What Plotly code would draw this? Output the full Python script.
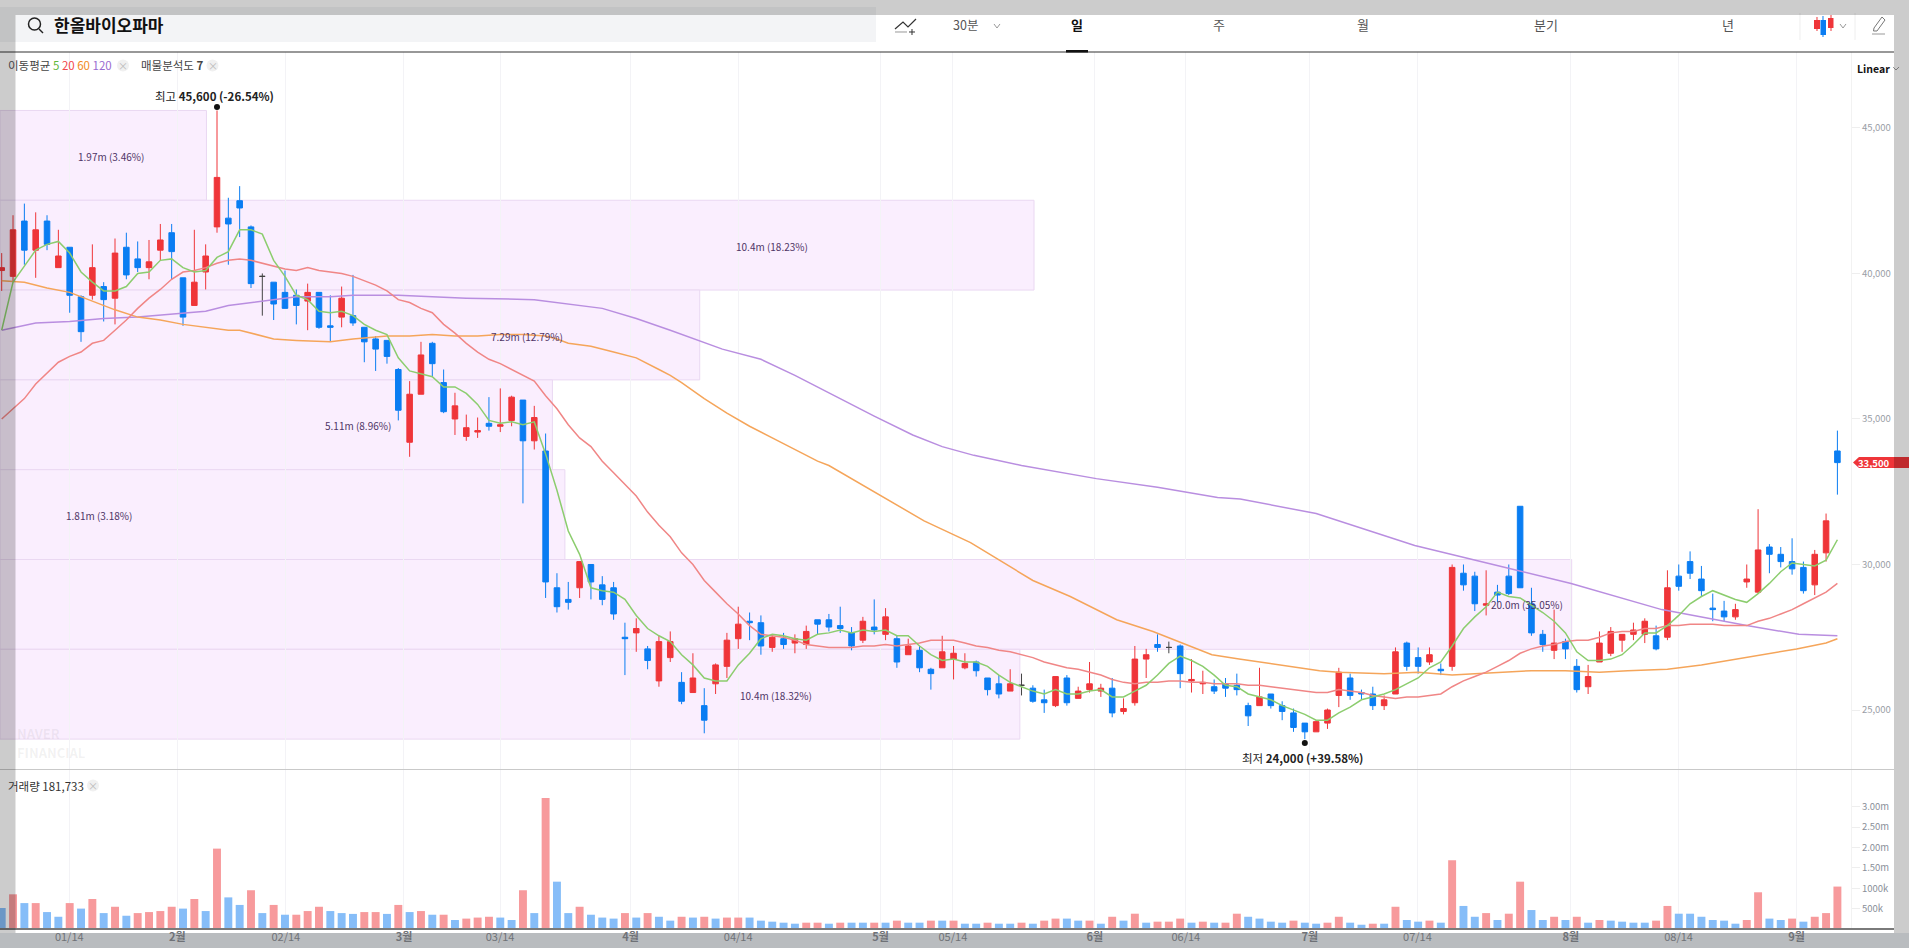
import plotly.graph_objects as go

# daily candles, index 0..162 (won)
opens = [
    40100, 39900, 41800, 40800, 41800, 40200, 40900, 39200, 39250, 39550,
    39150, 40900, 40500, 40200, 40800, 41400, 39850, 38900, 40050, 41600,
    41900, 42500, 41600, 39900, 39700, 39350, 39250, 39050, 39350, 38200,
    38500, 38550, 38150, 37750, 37700, 36700, 34200, 35850, 37600, 36250,
    35000, 34400, 34550, 34850, 34750, 34950, 35650, 34250, 33900, 29200,
    28800, 29200, 30000, 29300, 29200, 27500, 27650, 27100, 26000, 26800,
    25950, 25600, 25150, 25900, 26500, 27450, 28050, 28000, 27150, 27450,
    27300, 27250, 28100, 28100, 27900, 27650, 27400, 27850, 27600, 27450,
    26900, 27050, 26400, 26450, 26750, 26450, 26650, 26100, 25900, 25650,
    25850, 25750, 25350, 25150, 26100, 25400, 25700, 25650, 25750, 24950,
    25250, 26750, 27250, 27150, 27200, 26000, 25900, 25800, 25900, 25850,
    25150, 25150, 25550, 25150, 24900, 24550, 24250, 24550, 25500, 26100,
    25600, 25550, 25150, 25550, 27300, 26800, 26650, 26400, 26500, 29700,
    29600, 28600, 29050, 29600, 32000, 28650, 27600, 27050, 27350, 26500,
    25800, 26650, 26950, 27400, 27600, 27600, 27550, 27500, 29600, 30100,
    29500, 28500, 28400, 28200, 29400, 29050, 30600, 30350, 30100, 29900,
    29300, 30400, 33900,
]
closes = [
    40200, 41500, 40800, 41500, 41000, 40600, 39250, 38000, 40200, 39100,
    40700, 39950, 40200, 40400, 41150, 40750, 38500, 39700, 40600, 43300,
    41700, 42250, 39650, 39900, 38950, 38800, 38900, 39350, 38150, 38150,
    39150, 38300, 37650, 37400, 37150, 35300, 35850, 37200, 36900, 35250,
    35450, 34700, 34600, 34750, 34800, 35750, 34250, 35050, 29400, 28550,
    28700, 30100, 29400, 28800, 28300, 27450, 27800, 26700, 27350, 27350,
    25300, 26100, 24650, 26550, 27400, 27950, 28000, 27200, 27500, 27250,
    27450, 27700, 27950, 27850, 27800, 27200, 28050, 27750, 28200, 26650,
    27200, 26450, 26250, 27000, 26950, 26600, 26350, 25700, 25550, 25900,
    25850, 25300, 25250, 26150, 25250, 25650, 25900, 25750, 24900, 25050,
    26750, 26900, 27150, 27150, 26250, 26050, 25950, 25650, 25750, 25700,
    24800, 25450, 25150, 24950, 24400, 24250, 24600, 25000, 26300, 25500,
    25550, 25150, 25350, 27000, 26500, 26500, 26900, 26350, 29900, 29300,
    28650, 28650, 28950, 29000, 29200, 27650, 27250, 27300, 27100, 25700,
    26150, 27300, 27700, 27600, 27750, 28050, 27100, 29200, 29250, 29700,
    29100, 28450, 28200, 28450, 29500, 30500, 30350, 30100, 29850, 29100,
    30350, 31500, 33500,
]
highs = [
    40700, 42000, 42400, 42100, 42000, 41500, 40900, 39250, 41000, 39700,
    41200, 41400, 41100, 41150, 41700, 41700, 39850, 41500, 41000, 45600,
    42600, 43000, 41650, 40000, 39700, 40100, 39450, 39650, 39350, 39250,
    39550, 39950, 38150, 37850, 37700, 36750, 36300, 37650, 37650, 36700,
    35900, 35150, 35050, 35750, 36050, 35800, 35650, 35450, 34500, 29700,
    29400, 30100, 30000, 29600, 29400, 28000, 28150, 27200, 27550, 27700,
    26300, 26950, 25750, 26600, 27650, 28550, 28350, 28250, 27600, 27650,
    27600, 27900, 28100, 28300, 28550, 27850, 28200, 28800, 28500, 27550,
    27450, 27200, 26450, 27550, 27200, 26950, 26700, 26100, 26200, 26400,
    26250, 25850, 25700, 26150, 26200, 25800, 26650, 25900, 26100, 25400,
    27200, 27100, 27600, 27350, 27250, 26750, 26350, 26050, 26100, 26250,
    25250, 26450, 25550, 25300, 25050, 24550, 24650, 25050, 26450, 26250,
    25700, 25800, 25500, 27150, 27350, 27150, 27150, 26600, 30000, 30000,
    29750, 29800, 29300, 30000, 32000, 29200, 27750, 28450, 27450, 26750,
    26550, 27700, 27850, 27600, 28000, 28150, 27900, 29800, 30000, 30450,
    29950, 29000, 28750, 28650, 30000, 31900, 30700, 30600, 30900, 30100,
    30500, 31750, 34600,
]
lows = [
    39400, 39700, 40300, 39850, 40800, 40200, 38650, 37650, 39100, 38350,
    38250, 39800, 40050, 39800, 40450, 39800, 38200, 38900, 39450, 41400,
    40300, 41250, 39500, 38550, 38400, 38800, 38250, 38050, 38100, 37650,
    38150, 38200, 36950, 36650, 36900, 34950, 33700, 35850, 36450, 35200,
    34450, 34250, 34350, 34600, 34550, 34750, 32100, 33950, 28850, 28350,
    28450, 28850, 28800, 28600, 28100, 26200, 27000, 26400, 25800, 26650,
    25200, 25600, 24200, 25550, 26100, 27100, 27400, 26900, 27000, 27100,
    26950, 27100, 27600, 27700, 27650, 27050, 27300, 27600, 27400, 26450,
    26900, 26300, 25700, 26450, 26050, 26400, 26150, 25500, 25400, 25650,
    25500, 25250, 24900, 25100, 25150, 25400, 25600, 25450, 24750, 24850,
    25150, 26100, 27000, 26950, 25750, 25600, 25550, 25550, 25450, 25500,
    24450, 25150, 25050, 24650, 24250, 24000, 24250, 24350, 25100, 25350,
    25350, 25000, 25000, 25550, 26350, 26250, 26550, 26200, 26350, 29100,
    28400, 28250, 28700, 28950, 29200, 27550, 27000, 26750, 26750, 25600,
    25550, 26650, 26850, 27000, 27400, 27300, 27050, 27400, 29100, 29500,
    28900, 28050, 28050, 28100, 29200, 29000, 29700, 29900, 29650, 29000,
    28950, 30100, 32400,
]

# thousands of shares
volumes = [
    515, 850, 635, 635, 415, 300, 635, 500, 735, 390,
    545, 325, 390, 415, 440, 545, 500, 735, 440, 1970,
    775, 590, 950, 390, 590, 350, 350, 440, 545, 440,
    390, 370, 415, 415, 370, 590, 415, 440, 350, 350,
    220, 255, 280, 300, 280, 220, 950, 390, 3210, 1160,
    390, 545, 350, 280, 255, 390, 280, 390, 300, 205,
    300, 280, 300, 255, 280, 280, 280, 205, 180, 155,
    130, 155, 155, 130, 155, 155, 155, 155, 155, 205,
    155, 155, 205, 205, 205, 130, 130, 155, 130, 130,
    155, 130, 205, 255, 255, 205, 205, 130, 300, 205,
    375, 155, 180, 180, 255, 155, 180, 155, 155, 375,
    300, 255, 180, 155, 205, 155, 130, 155, 300, 155,
    105, 130, 130, 545, 220, 180, 205, 155, 1685, 565,
    300, 390, 220, 375, 1160, 465, 220, 300, 220, 300,
    155, 220, 205, 180, 155, 155, 205, 565, 375, 375,
    300, 220, 205, 130, 220, 900, 255, 220, 255, 180,
    300, 390, 1040,
]
# r = red bar, b = blue bar, as drawn in the volume pane
volume_dir = (
    "brbrbbrbrb"
    "rbrrrrbrbr"
    "bbrbrbrrrb"
    "bbrrbrbrbr"
    "brrrbbrbrb"
    "brbbbrbrbb"
    "rbrbrrbbbb"
    "brrbrbbrbr"
    "bbrbrbbrbb"
    "rbrrbbrbrb"
    "rbrrrbrbrr"
    "bbbbrbbrrb"
    "brbrbbrbrb"
    "brbrrbbrbr"
    "brbbbbrrbb"
    "bbbbrrbbrb"
    "rrr"
)

tick_pos = [5.96, 15.49, 25.07, 35.5, 43.98, 55.49, 64.99, 77.55, 83.94, 96.46,
            104.5, 115.45, 124.94, 138.48, 147.98, 158.39]
tick_labels = ["01/14", "2월", "02/14", "3월", "03/14", "4월", "04/14", "5월", "05/14", "6월",
               "06/14", "7월", "07/14", "8월", "08/14", "9월"]

# moving averages
ma5 = [
    38050, 39700, 40250, 40800, 41000, 41100, 40700, 40050, 39700, 39400,
    39400, 39550, 40000, 40050, 40450, 40500, 40200, 40050, 40100, 40550,
    40750, 41500, 41500, 41350, 40450, 39900, 39250, 39100, 38700, 38650,
    38700, 38550, 38250, 38050, 37900, 37100, 36650, 36550, 36450, 36100,
    36100, 35880, 35500, 34950, 34850, 34900, 34800, 34900, 33800, 32550,
    31150, 30350, 29200, 29100, 29050, 28800, 28250, 27800, 27550, 27350,
    26900, 26550, 26100, 26000, 26000, 26550, 26950, 27450, 27600, 27550,
    27450, 27400, 27600, 27650, 27750, 27650, 27750, 27700, 27750, 27550,
    27550, 27200, 26900, 26700, 26750, 26650, 26650, 26500, 26200, 25950,
    25800, 25650, 25550, 25700, 25550, 25550, 25650, 25700, 25450, 25450,
    25650, 25850, 26200, 26600, 26850, 26700, 26500, 26200, 25850, 25800,
    25550, 25450, 25350, 25150, 25000, 24850, 24650, 24650, 24900, 25100,
    25350, 25450, 25550, 25700, 25900, 26100, 26450, 26650, 27200, 27800,
    28200, 28550, 29050, 28900, 28850, 28600, 28350, 28050, 27650, 27000,
    26700, 26700, 26750, 26900, 27250, 27650, 27650, 27900, 28250, 28650,
    28900, 29100, 28950, 28800, 28700, 29000, 29350, 29750, 30050, 30000,
    29950, 30150, 30850,
]
ma20_idx = [0, 2, 3] + list(range(5, 163))
ma20 = [
    35000, 35700, 36200,
    36950, 37150, 37300, 37600, 37700, 38050, 38400, 38800, 39150, 39450,
    39800, 40050, 40100, 40200, 40350, 40450, 40500, 40450, 40350, 40250,
    40150, 40100, 40200, 40100, 40050, 40000, 39900, 39750, 39600, 39400,
    39100, 39000, 38800, 38650, 38250, 37950, 37600, 37300, 37050, 36900,
    36700, 36500, 36300, 35800, 35350, 34800, 34350, 34050, 33550, 33150,
    32750, 32350, 31800, 31350, 30950, 30400, 30000, 29450, 29050, 28650,
    28300, 27900, 27600, 27550, 27500, 27400, 27250, 27200, 27150, 27150,
    27150, 27200, 27200, 27250, 27200, 27250, 27300, 27400, 27400, 27400,
    27300, 27200, 27150, 27050, 27000, 26900, 26800, 26650, 26550, 26450,
    26400, 26300, 26200, 26050, 25950, 25900, 25950, 25950, 26000, 26000,
    25950, 25950, 25900, 25900, 25900, 25850, 25850, 25800, 25750, 25700,
    25650, 25600, 25600, 25700, 25650, 25600, 25500, 25450, 25400, 25450,
    25450, 25500, 25550, 25800, 26000, 26150, 26300, 26500, 26700, 26950,
    27100, 27200, 27250, 27350, 27400, 27400, 27500, 27650, 27700, 27700,
    27800, 27800, 27900, 27900, 27950, 27950, 27950, 27900, 27900, 27900,
    28050, 28150, 28300, 28450, 28650, 28850, 29050, 29350,
]
ma60_idx = [0, 2, 4, 6, 8, 10, 12, 14, 16, 18, 20, 21, 23, 24, 26, 28, 29, 31, 33, 34, 36, 38, 40,
            42, 44, 46, 48, 49, 50, 52, 54, 56, 58, 59, 60, 62, 64, 66, 68, 70, 72, 73, 77, 81.4, 85.5,
            91, 94.3, 98.4, 101.6, 104.2, 106.8, 109.2, 113.4, 116.3, 118, 122, 125, 128, 130, 132,
            135, 138, 141, 143.5, 147, 150, 154, 158.4, 161, 162]
ma60 = [39750, 39700, 39500, 39350, 39050, 38750, 38500, 38400, 38250, 38150, 38050, 38050, 37850, 37750,
        37700, 37650, 37650, 37750, 37800, 37850, 37850, 37900, 37850,
        37850, 37900, 37900, 37850, 37750, 37600, 37500, 37300, 37100, 36700, 36500, 36250, 35700, 35200,
        34750, 34350, 33950, 33550, 33400, 32500, 31500, 30750,
        29450, 28900, 28100, 27700, 27300, 26900, 26750, 26500, 26350, 26300, 26250, 26300, 26200, 26250,
        26300, 26350, 26350, 26300, 26350, 26400, 26550, 26800, 27100, 27300, 27450]
ma120_idx = [0, 3, 6, 9, 12, 15, 18, 20, 21, 23, 26, 29, 31, 33, 35, 38, 41, 47, 53, 56, 59, 63.6, 67, 70, 73,
             77, 80.4, 83, 85.8, 90, 96.6, 102, 107.3, 109.3, 116, 124.7, 133.7, 138.5, 146.5, 154, 158.6, 162]
ma120 = [38050, 38300, 38350, 38450, 38500, 38600, 38700, 38900, 38950, 39050, 39200, 39200, 39250, 39250,
         39250, 39200, 39150, 39100, 38800, 38450, 38050, 37400, 37050, 36500, 35900,
         35100, 34450, 34050, 33750, 33400, 32950, 32650, 32300, 32250, 31750, 30650, 29800, 29350, 28450,
         27900, 27600, 27550]

# price-volume zones: low, high, where the bar ends (candle index), label
zone_low = [42514, 39429, 36343, 33257, 30171, 27086, 24000]
zone_high = [45600, 42514, 39429, 36343, 33257, 30171, 27086]
zone_end = [18.07, 91.1, 61.6, 48.6, 49.7, 138.55, 89.85]
zone_text = ["1.97m (3.46%)", "10.4m (18.23%)", "7.29m (12.79%)", "5.11m (8.96%)",
             "1.81m (3.18%)", "20.0m (35.05%)", "10.4m (18.32%)"]
zone_text_px = [(111, 156), (772, 246), (527, 336), (358, 426), (99, 515), (1527, 604), (776, 695)]

price_ticks = [25000, 30000, 35000, 40000, 45000]
vol_ticks = [500000, 1000000, 1500000, 2000000, 2500000, 3000000]
vol_tick_labels = ["500k", "1000k", "1.50m", "2.00m", "2.50m", "3.00m"]

W, H = 1909, 948
RED = "#ef3539"
BLUE = "#0a7df2"
FONT = "Noto Sans CJK KR"


def px(x):
    return x / W


def py(y):
    return 1 - y / H


def rect(x0, y0, x1, y1, fill, layer="above"):
    return dict(type="rect", xref="paper", yref="paper", x0=px(x0), x1=px(x1), y0=py(y0), y1=py(y1),
                fillcolor=fill, line=dict(width=0), layer=layer)


def seg(points, color, width=1.5, close=False, fill=None):
    path = "M " + " L ".join("%f %f" % (px(a), py(b)) for a, b in points) + (" Z" if close else "")
    d = dict(type="path", xref="paper", yref="paper", path=path, line=dict(color=color, width=width), layer="above")
    if fill:
        d["fillcolor"] = fill
    return d


def circle(cx, cy, r, line_color, fill=None, width=1.5):
    d = dict(type="circle", xref="paper", yref="paper", x0=px(cx - r), x1=px(cx + r), y0=py(cy + r), y1=py(cy - r),
             line=dict(color=line_color, width=width), layer="above")
    if fill:
        d["fillcolor"] = fill
    return d


def label(x, y, text, size=11, color="#333333", anchor="center"):
    return dict(xref="paper", yref="paper", x=px(x), y=py(y), text=text, showarrow=False, xanchor=anchor,
                yanchor="middle", font=dict(size=size, color=color, family=FONT))


idx = list(range(len(opens)))
moving = [i for i in idx if opens[i] != closes[i]]
flat = [i for i in idx if opens[i] == closes[i]]

fig = go.Figure()
fig.add_trace(go.Candlestick(
    x=moving,
    open=[opens[i] for i in moving], high=[highs[i] for i in moving],
    low=[lows[i] for i in moving], close=[closes[i] for i in moving],
    increasing=dict(line=dict(color=RED, width=1), fillcolor=RED),
    decreasing=dict(line=dict(color=BLUE, width=1), fillcolor=BLUE),
    whiskerwidth=0, hoverinfo="skip", xaxis="x", yaxis="y",
))
fig.add_trace(go.Candlestick(
    x=flat,
    open=[opens[i] for i in flat], high=[highs[i] for i in flat],
    low=[lows[i] for i in flat], close=[closes[i] for i in flat],
    increasing=dict(line=dict(color="#444444", width=1), fillcolor="#444444"),
    decreasing=dict(line=dict(color="#444444", width=1), fillcolor="#444444"),
    whiskerwidth=0, hoverinfo="skip", xaxis="x", yaxis="y",
))
for xs, ys, color in [
    (ma120_idx, ma120, "#b98ee0"),
    (ma60_idx, ma60, "#f5a55a"),
    (ma20_idx, ma20, "#f08686"),
    (idx, ma5, "#8ccd6e"),
]:
    fig.add_trace(go.Scatter(x=xs, y=ys, mode="lines", line=dict(color=color, width=1.5), hoverinfo="skip",
                             xaxis="x", yaxis="y"))

# high / low markers
fig.add_trace(go.Scatter(x=[19, 115], y=[45720, 23870], mode="markers", marker=dict(color="#111111", size=6),
                         hoverinfo="skip", xaxis="x", yaxis="y"))

fig.add_trace(go.Bar(
    x=idx, y=[v * 1000 for v in volumes], width=0.7,
    marker=dict(color=["#f79a9c" if c == "r" else "#86bdf8" for c in volume_dir], line=dict(width=0)),
    hoverinfo="skip", xaxis="x2", yaxis="y2",
))

shapes = []
for low, high, end in zip(zone_low, zone_high, zone_end):
    shapes.append(dict(type="rect", xref="x", yref="y", x0=-0.15, x1=end, y0=low, y1=high,
                       fillcolor="#faeefe", line=dict(color="#ead8f2", width=1), layer="below"))

# header
shapes.append(rect(0, 7, 876, 42, "#f3f4f6", layer="below"))
shapes.append(seg([(0, 52), (1894, 52)], "#333333", 1.2))
shapes.append(rect(1066, 50, 1088, 52.5, "#111111"))
shapes.append(circle(34.5, 24, 6, "#222222"))
shapes.append(seg([(39, 29), (43, 33)], "#222222"))
shapes.append(seg([(895, 29), (903, 22), (908, 27), (916, 19)], "#333333", 1.2))
shapes.append(seg([(895, 32), (907, 32)], "#999999", 1))
shapes.append(seg([(912, 29), (912, 35)], "#333333", 1))
shapes.append(seg([(909, 32), (915, 32)], "#333333", 1))
for cx in [997, 1843]:
    shapes.append(seg([(cx - 3, 24), (cx, 28), (cx + 3, 24)], "#999999", 1))
shapes.append(seg([(1800, 13), (1800, 40)], "#eeeeee", 1))
shapes.append(seg([(1855, 13), (1855, 40)], "#eeeeee", 1))
shapes.append(seg([(1817, 17), (1817, 31)], RED, 1))
shapes.append(rect(1814, 20, 1820, 29, RED))
shapes.append(seg([(1823, 16), (1823, 37)], BLUE, 1))
shapes.append(rect(1820.5, 20, 1826, 35, BLUE))
shapes.append(seg([(1831, 15), (1831, 31)], RED, 1))
shapes.append(rect(1828, 18, 1833.5, 28, RED))
shapes.append(seg([(1882, 17), (1885, 20), (1877, 31), (1873.5, 31), (1874, 28)], "#777777", 1, close=True))
shapes.append(seg([(1872, 34), (1885, 34)], "#999999", 1))
shapes.append(seg([(1893, 67), (1896, 70), (1899, 67)], "#999999", 1))

# legend close buttons
for cx, cy in [(123, 65.5), (212.5, 65.5), (93, 785.5)]:
    shapes.append(circle(cx, cy, 6, "#f0f0f0", fill="#f0f0f0", width=0))

# pane dividers
shapes.append(seg([(0, 769.5), (1894, 769.5)], "#c9c9c9", 1))
shapes.append(rect(0, 928, 1894, 930, "#7a7a7a"))
shapes.append(rect(0, 933, W, H, "#b9bcbf", layer="below"))

# current price tag
shapes.append(seg([(1853, 462.5), (1859, 457), (W, 457), (W, 468), (1859, 468)], RED, 0, close=True, fill=RED))

# browser-dim overlay around the capture
shapes.append(rect(0, 0, W, 15, "rgba(0,0,0,0.2)"))
shapes.append(rect(0, 15, 15.5, 933, "rgba(0,0,0,0.2)"))
shapes.append(rect(1894, 15, W, 933, "rgba(0,0,0,0.2)"))

annotations = [
    label(52, 25, "<b>한올바이오파마</b>", size=17, color="#111111", anchor="left"),
    label(951, 25, "30분", size=12.5, color="#555555", anchor="left"),
    label(1077, 25, "<b>일</b>", size=13, color="#111111"),
    label(1219, 25, "주", size=13, color="#555555"),
    label(1363, 25, "월", size=13, color="#555555"),
    label(1546, 25, "분기", size=13, color="#555555"),
    label(1728, 25, "년", size=13, color="#555555"),
    label(1873, 69, "<b>Linear</b>", size=10.5, color="#111111"),
    label(6, 65.5, '이동평균 <span style="color:#5fb83c">5</span> <span style="color:#f2474b">20</span> '
                   '<span style="color:#f28a1c">60</span> <span style="color:#9a6bd0">120</span>',
          size=11.5, color="#444444", anchor="left"),
    label(139, 65.5, "매물분석도 <b>7</b>", size=11.5, color="#444444", anchor="left"),
    label(6, 785.5, "거래량 181,733", size=11.5, color="#333333", anchor="left"),
    label(123, 65.5, "×", size=10, color="#bbbbbb"),
    label(212.5, 65.5, "×", size=10, color="#bbbbbb"),
    label(93, 785.5, "×", size=10, color="#bbbbbb"),
    label(214, 95.5, '최고 <b>45,600 (-26.54%)</b>', size=11.5, color="#222222"),
    label(1302.5, 757.5, '최저 <b>24,000 (+39.58%)</b>', size=11.5, color="#222222"),
    label(1873.5, 462.5, "<b>33,500</b>", size=9.5, color="#ffffff"),
    label(15, 733, "<b>NAVER</b>", size=13, color="rgba(120,120,120,0.10)", anchor="left"),
    label(15, 752, "<b>FINANCIAL</b>", size=13, color="rgba(120,120,120,0.10)", anchor="left"),
]
for text, (tx, ty) in zip(zone_text, zone_text_px):
    annotations.append(label(tx, ty, text, size=10, color="#4f3566"))

tick_text = []
for t in tick_labels:
    tick_text.append("<b>%s</b>" % t if t.endswith("월") else t)

x_range = [-0.15, 163.2]
x_dom = [0, 1851 / W]
fig.update_layout(
    width=W, height=H,
    margin=dict(l=0, r=0, t=0, b=0),
    paper_bgcolor="white", plot_bgcolor="white",
    showlegend=False,
    font=dict(family=FONT),
    shapes=shapes, annotations=annotations,
    xaxis=dict(domain=x_dom, range=x_range, anchor="y", rangeslider=dict(visible=False),
               tickmode="array", tickvals=tick_pos, showticklabels=False, ticks="",
               showgrid=True, gridcolor="#f3f3f6", gridwidth=1, zeroline=False, showline=False),
    xaxis2=dict(domain=x_dom, range=x_range, anchor="y2", tickmode="array", tickvals=tick_pos, ticktext=tick_text,
                tickfont=dict(size=11, color="#6f7277", family=FONT), ticks="", showgrid=True,
                gridcolor="#f3f3f6", gridwidth=1, zeroline=False, showline=False),
    yaxis=dict(domain=[py(769), py(52)], range=[22973, 47609], side="right", anchor="x",
               tickmode="array", tickvals=price_ticks, ticktext=["{:,}".format(v) for v in price_ticks],
               tickfont=dict(size=9.5, color="#9a9ea6", family=FONT), ticks="outside", ticklen=8, tickcolor="#eeeeee",
               showgrid=False, zeroline=False, showline=True, linecolor="#f2f2f2"),
    yaxis2=dict(domain=[py(929), py(770)], range=[0, 3897000], side="right", anchor="x2",
                tickmode="array", tickvals=vol_ticks, ticktext=vol_tick_labels,
                tickfont=dict(size=9.5, color="#8a8f99", family=FONT), ticks="outside", ticklen=8, tickcolor="#eeeeee",
                showgrid=False, zeroline=False, showline=True, linecolor="#f2f2f2"),
)

fig.write_html("out.html", config=dict(displayModeBar=False),
               post_script="document.body.style.margin='0';document.body.style.overflow='hidden';")
